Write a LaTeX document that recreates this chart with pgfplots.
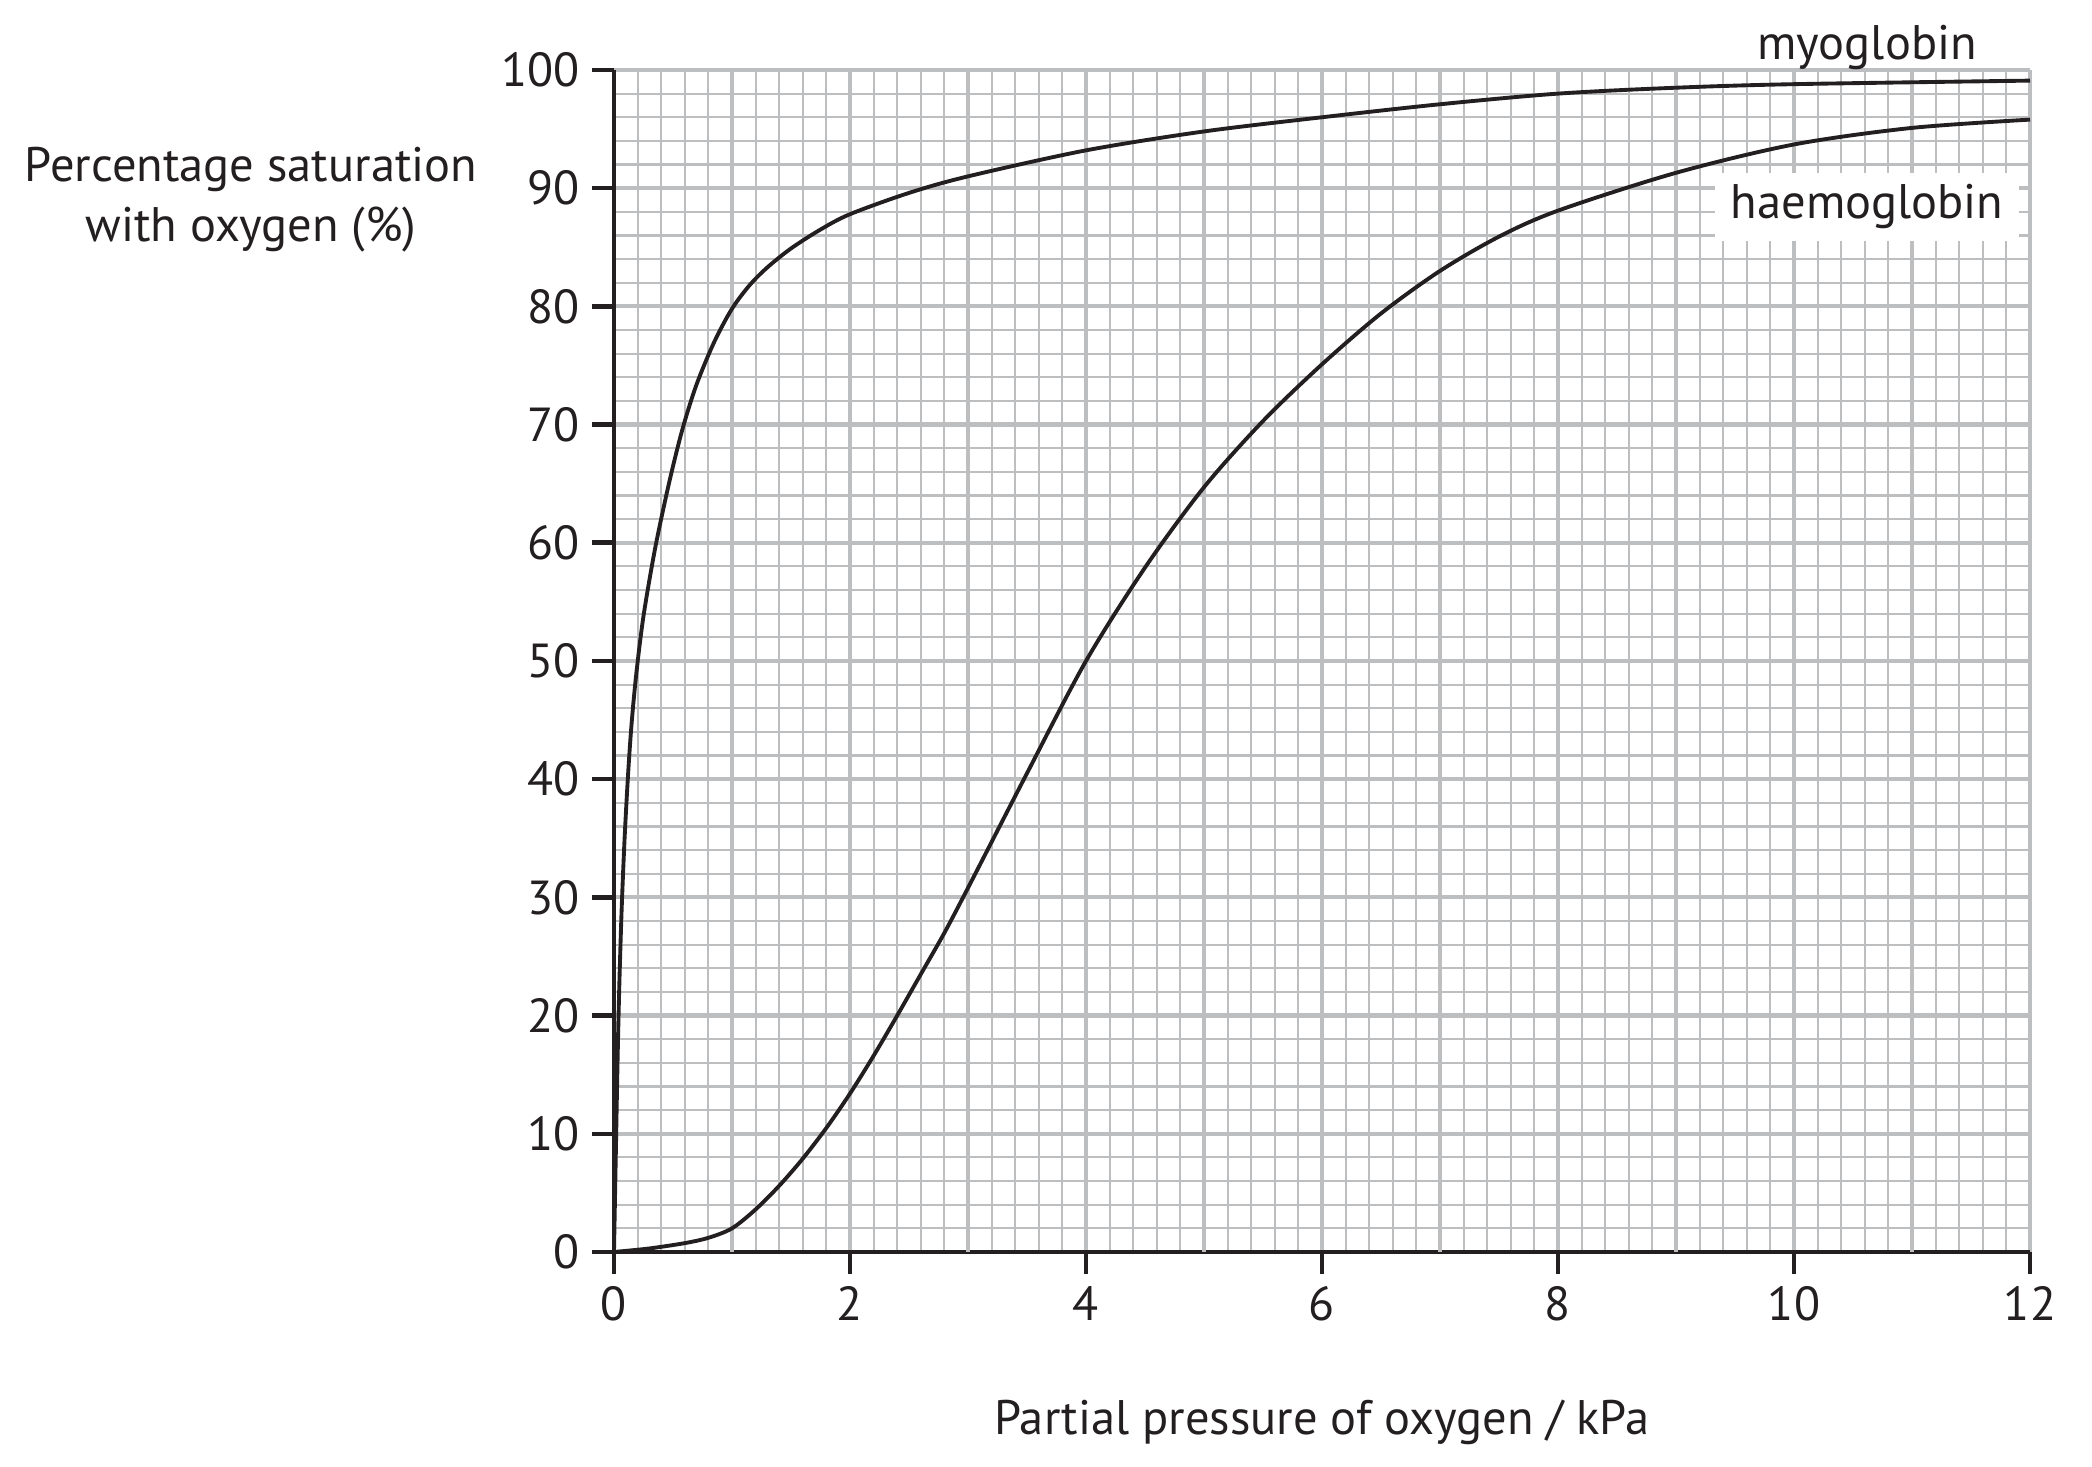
\documentclass[border=0pt]{standalone}
\usepackage{pgfplots}
\pgfplotsset{compat=1.18}
\usepackage{fontspec}
\setmainfont{PT Sans}
\definecolor{gridgray}{HTML}{BCBEC0}
\definecolor{ink}{HTML}{231F20}
\begin{document}
\begin{tikzpicture}
\path[use as bounding box] (-6.14,-2.15) rectangle (14.78,12.52);
\begin{axis}[
  at={(0,0)}, anchor=south west,
  scale only axis, width=14.16cm, height=11.82cm,
  xmin=0, xmax=12, ymin=0, ymax=100,
  axis x line=bottom, axis y line=left,
  axis line style={-, draw=ink, line width=1.3pt},
  xtick={0,2,...,12},
  minor x tick num=9,
  extra x ticks={1,3,5,7,9,11},
  extra x tick labels={},
  extra x tick style={grid=major, major tick length=0pt},
  ytick={0,10,...,100},
  minor y tick num=4,
  grid=both,
  major grid style={draw=gridgray, line width=1.2pt},
  minor grid style={draw=gridgray, line width=0.6pt},
  tick align=outside,
  major tick length=0.22cm,
  minor tick length=0pt,
  tick style={draw=ink, line width=1.3pt},
  ticklabel style={font=\fontsize{13.6}{16}\selectfont, text=ink},
  /pgf/number format/assume math mode=true,
  clip mode=individual,
]
% myoglobin
\addplot[ink, line width=1.1pt, smooth, tension=0.5] coordinates {
(0,0) (0.015,8) (0.03,16) (0.045,22.5) (0.065,29) (0.09,35) (0.12,40.5)
(0.15,44.8) (0.19,49) (0.25,53.8) (0.35,59.6) (0.47,65.2) (0.58,69.6)
(0.7,73.4) (0.85,77.0) (1.0,79.8) (1.15,81.8) (1.3,83.3) (1.5,84.9)
(1.75,86.5) (2.0,87.8) (2.5,89.6) (3.0,91.0) (4.0,93.2) (5.0,94.8)
(6.0,96.0) (7.0,97.1) (8.0,98.0) (9.0,98.5) (10.0,98.8) (12.0,99.1)
};
% haemoglobin
\addplot[ink, line width=1.1pt, smooth, tension=0.5] coordinates {
(0,0) (0.3,0.3) (0.6,0.75) (0.8,1.2) (1.0,2.0) (1.2,3.6) (1.4,5.6)
(1.6,7.9) (1.8,10.5) (2.0,13.4) (2.2,16.6) (2.4,20.0) (2.6,23.5)
(2.8,27.0) (3.0,30.8) (3.5,40.5) (4.0,50.0) (4.5,57.9) (5.0,64.7)
(5.5,70.3) (6.0,75.1) (6.5,79.4) (7.0,83.0) (7.5,85.9) (8.0,88.1)
(9.0,91.3) (10.0,93.7) (11.0,95.1) (12.0,95.8)
};
\node[font=\fontsize{13.8}{17}\selectfont, text=ink, align=center, anchor=center]
  at (axis cs:-3.076,89) {Percentage saturation\\with oxygen (\%)};
\node[font=\fontsize{13.8}{17}\selectfont, text=ink, anchor=base]
  at (axis cs:6,-15.4) {Partial pressure of oxygen / kPa};
\node[font=\fontsize{13.8}{17}\selectfont, text=ink, anchor=base]
  at (axis cs:10.62,100.9) {myoglobin};
\node[font=\fontsize{13.8}{17}\selectfont, text=ink, anchor=base, fill=white,
  inner xsep=0.16cm, inner ysep=0.12cm]
  at (axis cs:10.62,87.4) {haemoglobin};
\end{axis}
\end{tikzpicture}
\end{document}
